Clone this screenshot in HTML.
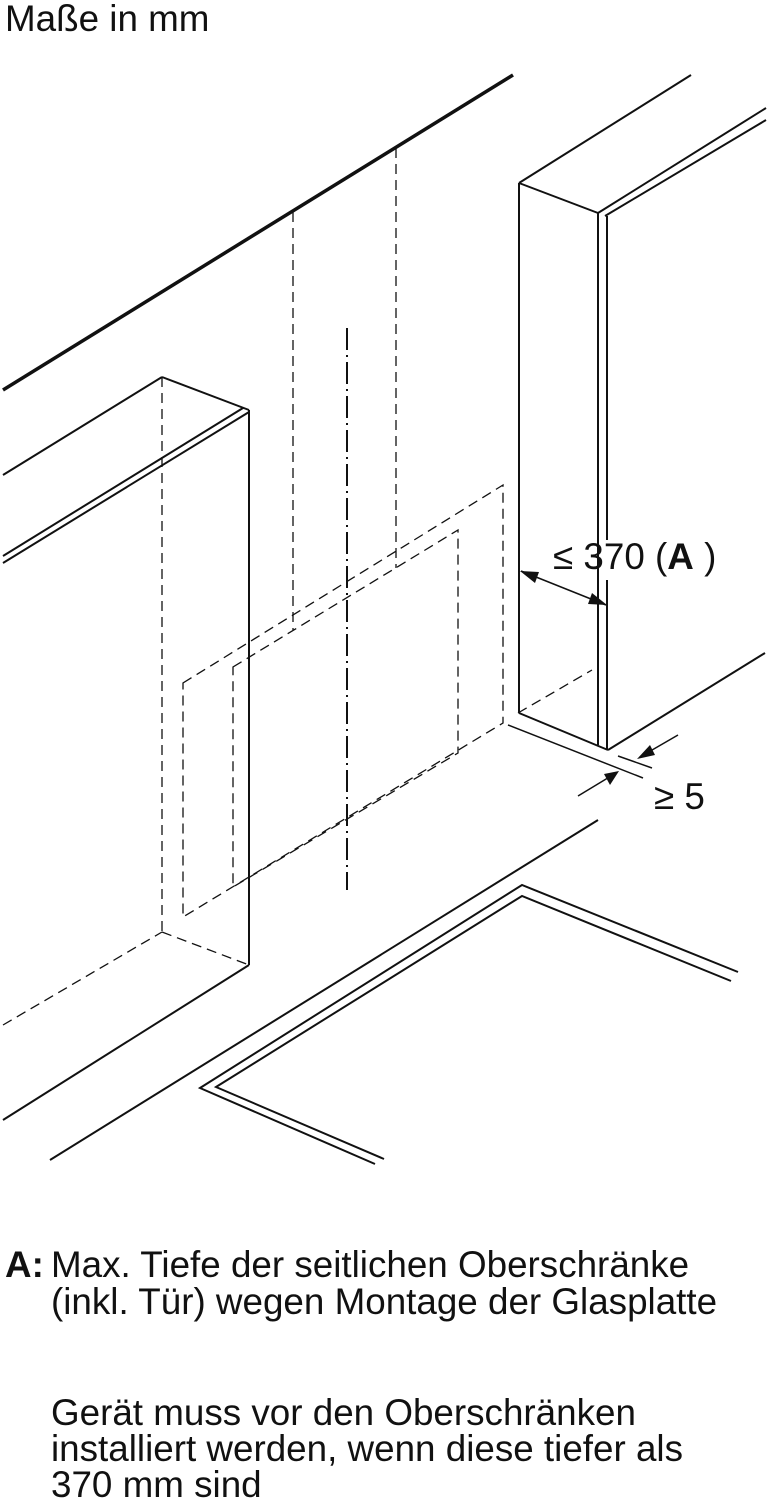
<!DOCTYPE html>
<html><head><meta charset="utf-8"><style>
html,body{margin:0;padding:0;background:#fff;}
body{width:770px;height:1500px;position:relative;overflow:hidden;font-family:"Liberation Sans",sans-serif;color:#111;}
.t{position:absolute;white-space:nowrap;font-size:36.8px;line-height:37px;}
</style></head><body>
<svg width="770" height="1500" style="position:absolute;left:0;top:0" xmlns="http://www.w3.org/2000/svg">
<g stroke="#111" fill="none" stroke-width="2" stroke-linecap="butt">
<line x1="3" y1="390" x2="513" y2="75" stroke-width="3.5"/>
<g stroke-dasharray="10,6" stroke-width="1.3">
<line x1="293" y1="212" x2="293" y2="630"/>
<line x1="396" y1="148" x2="396" y2="568"/>
<polygon points="183,683 503,485 503,723 183,917"/>
<polygon points="233,667 458,530 458,753 233,887"/>
<line x1="162" y1="377" x2="162" y2="932"/>
<line x1="162" y1="932" x2="249" y2="965"/>
<line x1="3" y1="1025" x2="162" y2="932"/>
<line x1="518" y1="713" x2="592" y2="670"/>
</g>
<line x1="347" y1="328" x2="347" y2="890" stroke-dasharray="22,5,2,5" stroke-width="2"/>
<line x1="3" y1="475" x2="162" y2="377"/>
<line x1="162" y1="377" x2="249" y2="410"/>
<line x1="3" y1="556" x2="243" y2="408"/>
<line x1="3" y1="563" x2="249" y2="412"/>
<line x1="249" y1="410" x2="249" y2="965"/>
<line x1="249" y1="965" x2="3" y2="1120"/>
<line x1="519" y1="183" x2="691" y2="75"/>
<line x1="519" y1="183" x2="598" y2="213"/>
<line x1="598" y1="213" x2="766" y2="108"/>
<line x1="605" y1="216" x2="766" y2="120"/>
<line x1="519" y1="183" x2="519" y2="713"/>
<line x1="519" y1="713" x2="608" y2="750"/>
<line x1="598" y1="213" x2="598" y2="745"/>
<line x1="607" y1="216" x2="607" y2="540"/>
<line x1="607" y1="580" x2="607" y2="750"/>
<line x1="608" y1="750" x2="765" y2="653"/>
<line x1="521" y1="571" x2="606" y2="605" stroke-width="1.5"/>
<polygon points="520,571 539,572 535,583" fill="#111" stroke="none"/>
<polygon points="607,605 588,604 592,593" fill="#111" stroke="none"/>
<line x1="508" y1="725" x2="643" y2="778" stroke-width="1.5"/>
<line x1="618" y1="756" x2="652" y2="768" stroke-width="1.5"/>
<line x1="678" y1="735" x2="640" y2="757" stroke-width="1.5"/>
<polygon points="637,759 650,745 655,755" fill="#111" stroke="none"/>
<line x1="578" y1="796" x2="616" y2="773" stroke-width="1.5"/>
<polygon points="619,771 604,774 610,785" fill="#111" stroke="none"/>
<line x1="50" y1="1160" x2="598" y2="820"/>
<polyline points="738,972 522,885 200,1088 375,1164"/>
<polyline points="731,981 522,896 216,1087 384,1159"/>
</g>
</svg>
<div class="t" style="left:5px;top:0px;">Maße in mm</div>
<div class="t" style="left:553px;top:538px;">≤ 370 (<b>A</b> )</div>
<div class="t" style="left:654px;top:778px;">≥ 5</div>
<div class="t" style="left:5px;top:1246px;"><b>A:</b></div>
<div class="t" style="left:51px;top:1246px;">Max. Tiefe der seitlichen Oberschränke</div>
<div class="t" style="left:51px;top:1283px;">(inkl. Tür) wegen Montage der Glasplatte</div>
<div class="t" style="left:51px;top:1394px;">Gerät muss vor den Oberschränken</div>
<div class="t" style="left:51px;top:1430px;">installiert werden, wenn diese tiefer als</div>
<div class="t" style="left:51px;top:1466px;">370 mm sind</div>
</body></html>
